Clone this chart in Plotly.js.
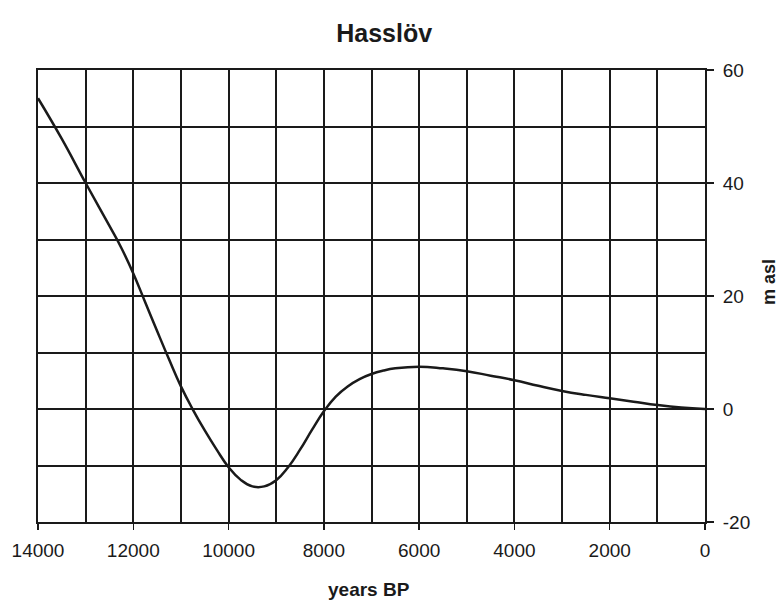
<!DOCTYPE html>
<html>
<head>
<meta charset="utf-8">
<script src="https://cdn.plot.ly/plotly-3.0.1.min.js"></script>
<style>html,body{margin:0;padding:0;background:#fff;}#chart{width:784px;height:603px;}</style>
</head>
<body>
<div id="chart"></div>
<script>
const years = [14000,13500,13000,12500,12250,12000,11750,11500,11250,11000,10750,10500,10250,10000,9750,9500,9250,9000,8750,8500,8250,8000,7750,7500,7250,7000,6750,6500,6000,5500,5000,4500,4000,3500,3000,2500,2000,1500,1000,500,0];
const level = [55,47.8,40,32.4,28.5,24.0,18.9,13.8,8.8,4.0,-0.1,-3.8,-7.2,-10.3,-12.5,-13.7,-13.7,-12.6,-10.3,-7.2,-3.7,-0.4,2.2,4.0,5.3,6.2,6.8,7.2,7.5,7.2,6.7,5.9,5.1,4.1,3.2,2.5,1.9,1.3,0.7,0.25,0];
const xTicks = [14000,12000,10000,8000,6000,4000,2000,0];
const yTicks = [-20,0,20,40,60];
const chartTitle = 'Hasslöv';
const xLabel = 'years BP';
const yLabel = 'm asl';

const font = 'Liberation Sans, Arial, sans-serif';
const ink = '#1a1a1a';
const trace = {
  x: years, y: level, type: 'scatter', mode: 'lines',
  line: {color: ink, width: 2.5, shape: 'spline', smoothing: 1.3},
  hoverinfo: 'skip'
};
const layout = {
  width: 784, height: 603,
  margin: {l: 38, r: 79, t: 70, b: 81},
  paper_bgcolor: '#fff', plot_bgcolor: '#fff',
  showlegend: false,
  font: {family: font, color: ink, size: 19},
  title: {text: '<b>' + chartTitle + '</b>', x: 0.49, xref: 'container', xanchor: 'center', y: 0.945, yref: 'container', yanchor: 'middle', font: {size: 25, family: font, color: ink}},
  xaxis: {
    range: [14000, 0], tickvals: xTicks, ticktext: xTicks.map(String),
    ticks: 'outside', ticklen: 6, tickwidth: 1.5, tickcolor: ink, ticklabelstandoff: 4,
    showline: true, linecolor: ink, linewidth: 2, mirror: true,
    showgrid: true, gridcolor: ink, gridwidth: 2, zeroline: false,
    minor: {dtick: 1000, tick0: 0, showgrid: true, gridcolor: ink, gridwidth: 2, ticks: ''},
    tickfont: {size: 19, family: font, color: ink}
  },
  yaxis: {
    side: 'right', range: [-20, 60], tickvals: yTicks, ticktext: yTicks.map(String),
    ticks: 'outside', ticklen: 7, tickwidth: 1.5, tickcolor: ink, ticklabelstandoff: 5,
    showline: true, linecolor: ink, linewidth: 2, mirror: true,
    showgrid: true, gridcolor: ink, gridwidth: 2, zeroline: false,
    minor: {dtick: 10, tick0: 0, showgrid: true, gridcolor: ink, gridwidth: 2, ticks: ''},
    tickfont: {size: 19, family: font, color: ink}
  },
  annotations: [
    {text: '<b>' + xLabel + '</b>', xref: 'paper', yref: 'paper', x: 0.497, y: -0.15, xanchor: 'center', yanchor: 'middle', showarrow: false, font: {size: 19, family: font, color: ink}},
    {text: '<b>' + yLabel + '</b>', xref: 'paper', yref: 'paper', x: 1.096, y: 0.531, xanchor: 'center', yanchor: 'middle', textangle: -90, showarrow: false, font: {size: 18, family: font, color: ink}}
  ]
};
Plotly.newPlot('chart', [trace], layout, {displayModeBar: false, staticPlot: true});
</script>
</body>
</html>
